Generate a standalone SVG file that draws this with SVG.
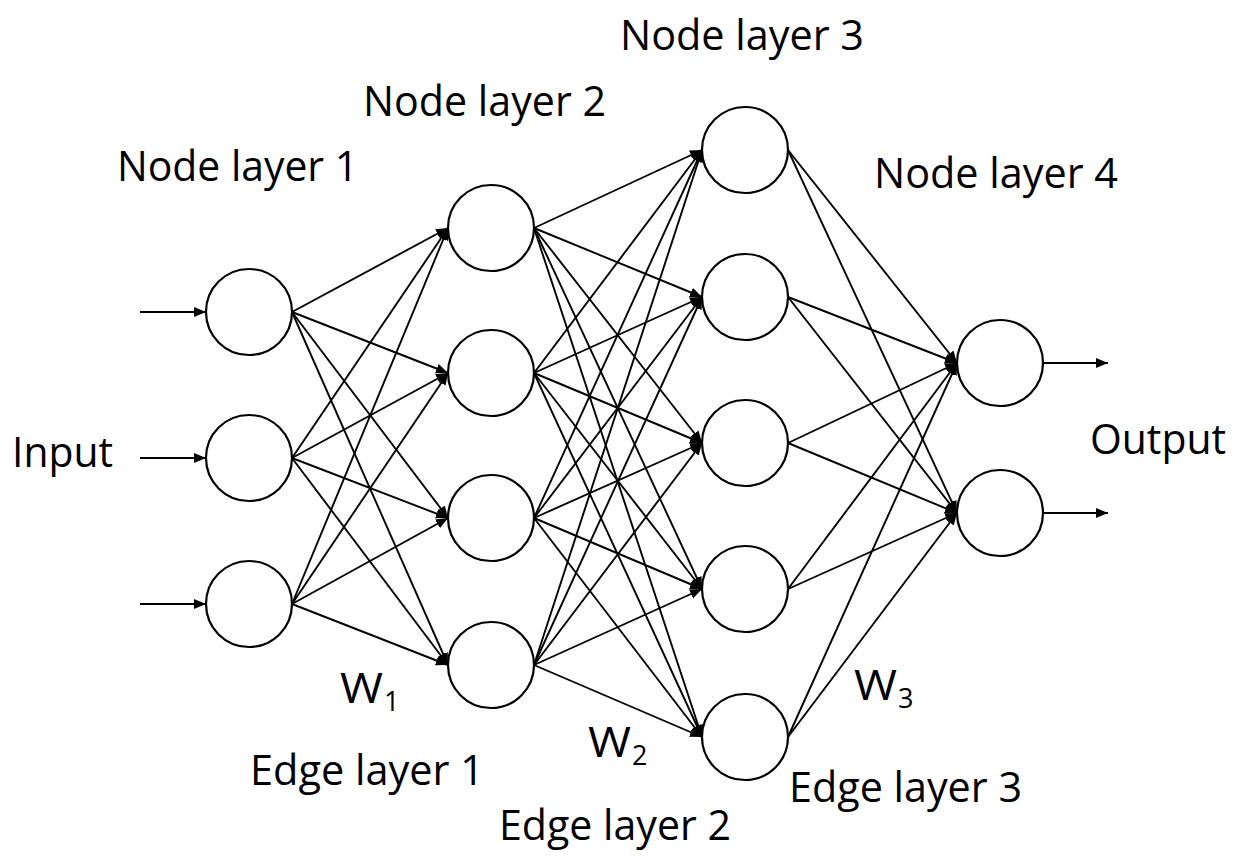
<svg xmlns="http://www.w3.org/2000/svg" width="1234" height="868" viewBox="0 0 1234 868">
<style>
.n{fill:#fff;stroke:#000;stroke-width:2.2}
.e{stroke:#000;stroke-width:1.9;fill:none;marker-end:url(#ah)}
.t{font-family:"Open Sans","Noto Sans",sans-serif;font-size:42px;fill:#000}
.s{font-family:"Open Sans","Noto Sans",sans-serif;font-size:27px;fill:#000}
</style>
<defs>
<marker id="ah" markerUnits="userSpaceOnUse" markerWidth="14" markerHeight="12" refX="12" refY="5" orient="auto">
<path d="M0,0 L12,5 L0,10 Z" fill="#000"/>
</marker>
</defs>
<rect width="1234" height="868" fill="#fff"/>
<g id="connectors">
<line class="e" x1="140" y1="312" x2="206" y2="312"/>
<line class="e" x1="140" y1="458" x2="206" y2="458"/>
<line class="e" x1="140" y1="604" x2="206" y2="604"/>
<line class="e" x1="292" y1="312" x2="448" y2="228"/>
<line class="e" x1="292" y1="312" x2="448" y2="373"/>
<line class="e" x1="292" y1="312" x2="448" y2="518"/>
<line class="e" x1="292" y1="312" x2="448" y2="665"/>
<line class="e" x1="292" y1="458" x2="448" y2="228"/>
<line class="e" x1="292" y1="458" x2="448" y2="373"/>
<line class="e" x1="292" y1="458" x2="448" y2="518"/>
<line class="e" x1="292" y1="458" x2="448" y2="665"/>
<line class="e" x1="292" y1="604" x2="448" y2="228"/>
<line class="e" x1="292" y1="604" x2="448" y2="373"/>
<line class="e" x1="292" y1="604" x2="448" y2="518"/>
<line class="e" x1="292" y1="604" x2="448" y2="665"/>
<line class="e" x1="534" y1="228" x2="702" y2="150"/>
<line class="e" x1="534" y1="228" x2="702" y2="297"/>
<line class="e" x1="534" y1="228" x2="702" y2="443"/>
<line class="e" x1="534" y1="228" x2="702" y2="589"/>
<line class="e" x1="534" y1="228" x2="702" y2="737"/>
<line class="e" x1="534" y1="373" x2="702" y2="150"/>
<line class="e" x1="534" y1="373" x2="702" y2="297"/>
<line class="e" x1="534" y1="373" x2="702" y2="443"/>
<line class="e" x1="534" y1="373" x2="702" y2="589"/>
<line class="e" x1="534" y1="373" x2="702" y2="737"/>
<line class="e" x1="534" y1="518" x2="702" y2="150"/>
<line class="e" x1="534" y1="518" x2="702" y2="297"/>
<line class="e" x1="534" y1="518" x2="702" y2="443"/>
<line class="e" x1="534" y1="518" x2="702" y2="589"/>
<line class="e" x1="534" y1="518" x2="702" y2="737"/>
<line class="e" x1="534" y1="665" x2="702" y2="150"/>
<line class="e" x1="534" y1="665" x2="702" y2="297"/>
<line class="e" x1="534" y1="665" x2="702" y2="443"/>
<line class="e" x1="534" y1="665" x2="702" y2="589"/>
<line class="e" x1="534" y1="665" x2="702" y2="737"/>
<line class="e" x1="788" y1="150" x2="957" y2="363"/>
<line class="e" x1="788" y1="150" x2="957" y2="513"/>
<line class="e" x1="788" y1="297" x2="957" y2="363"/>
<line class="e" x1="788" y1="297" x2="957" y2="513"/>
<line class="e" x1="788" y1="443" x2="957" y2="363"/>
<line class="e" x1="788" y1="443" x2="957" y2="513"/>
<line class="e" x1="788" y1="589" x2="957" y2="363"/>
<line class="e" x1="788" y1="589" x2="957" y2="513"/>
<line class="e" x1="788" y1="737" x2="957" y2="363"/>
<line class="e" x1="788" y1="737" x2="957" y2="513"/>
<line class="e" x1="1043" y1="363" x2="1108" y2="363"/>
<line class="e" x1="1043" y1="513" x2="1108" y2="513"/>
</g>
<g id="n1a"><circle class="n" cx="249" cy="312" r="43"/></g>
<g id="n1b"><circle class="n" cx="249" cy="458" r="43"/></g>
<g id="n1c"><circle class="n" cx="249" cy="604" r="43"/></g>
<g id="n2a"><circle class="n" cx="491" cy="228" r="43"/></g>
<g id="n2b"><circle class="n" cx="491" cy="373" r="43"/></g>
<g id="n2c"><circle class="n" cx="491" cy="518" r="43"/></g>
<g id="n2d"><circle class="n" cx="491" cy="665" r="43"/></g>
<g id="n3a"><circle class="n" cx="745" cy="150" r="43"/></g>
<g id="n3b"><circle class="n" cx="745" cy="297" r="43"/></g>
<g id="n3c"><circle class="n" cx="745" cy="443" r="43"/></g>
<g id="n3d"><circle class="n" cx="745" cy="589" r="43"/></g>
<g id="n3e"><circle class="n" cx="745" cy="737" r="43"/></g>
<g id="n4a"><circle class="n" cx="1000" cy="363" r="43"/></g>
<g id="n4b"><circle class="n" cx="1000" cy="513" r="43"/></g>
<g id="labels">
<text class="t" x="117" y="181" textLength="241" lengthAdjust="spacingAndGlyphs">Node layer 1</text>
<text class="t" x="363" y="116" textLength="243" lengthAdjust="spacingAndGlyphs">Node layer 2</text>
<text class="t" x="620" y="50" textLength="244" lengthAdjust="spacingAndGlyphs">Node layer 3</text>
<text class="t" x="874" y="188" textLength="244" lengthAdjust="spacingAndGlyphs">Node layer 4</text>
<text class="t" x="12" y="467" textLength="101" lengthAdjust="spacingAndGlyphs">Input</text>
<text class="t" x="1090" y="454" textLength="136" lengthAdjust="spacingAndGlyphs">Output</text>
<text class="t" x="340" y="703" textLength="43" lengthAdjust="spacingAndGlyphs">W</text><text class="s" x="384" y="711">1</text>
<text class="t" x="588" y="757" textLength="43" lengthAdjust="spacingAndGlyphs">W</text><text class="s" x="632" y="765">2</text>
<text class="t" x="854" y="700" textLength="43" lengthAdjust="spacingAndGlyphs">W</text><text class="s" x="898" y="708">3</text>
<text class="t" x="250" y="785" textLength="234" lengthAdjust="spacingAndGlyphs">Edge layer 1</text>
<text class="t" x="499" y="840" textLength="232" lengthAdjust="spacingAndGlyphs">Edge layer 2</text>
<text class="t" x="789" y="802" textLength="233" lengthAdjust="spacingAndGlyphs">Edge layer 3</text>
</g>
</svg>
